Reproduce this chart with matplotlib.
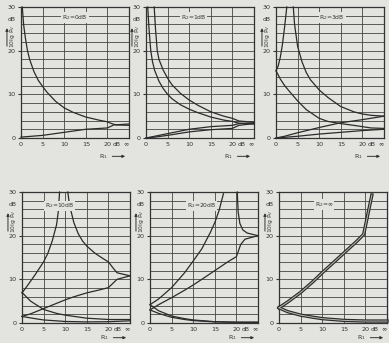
import matplotlib
matplotlib.use("Agg")
import matplotlib.pyplot as plt

# x values in dB, "inf" is drawn at the right edge of each panel (25 dB)
X_INF = 25

titles = ["R$_2$=0dB", "R$_2$=1dB", "R$_2$=3dB", "R$_2$=10dB", "R$_2$=20dB", "R$_2$=$\\infty$"]
x_ticks = [0, 5, 10, 15, 20]
x_tick_labels = ["0", "5", "10", "15", "20"]
y_ticks = [0, 10, 20, 30]

# R2 = 0 dB
p1_down_x = [0.3, 0.6, 1, 1.5, 2, 3, 4, 5, 6, 8, 10, 12, 15, 18, 20, 21, 22, X_INF]
p1_down_y = [30, 26, 23, 20, 18, 15.2, 13.2, 11.8, 10.5, 8.4, 6.9, 5.9, 4.8, 4.1, 3.7, 3.3, 3.0, 2.9]
p1_up_x = [0, 5, 10, 15, 20, 21.5, X_INF]
p1_up_y = [0.2, 0.6, 1.3, 2.0, 2.3, 3.0, 3.2]

# R2 = 1 dB
p2_a_x = [1.9, 2.2, 2.6, 3, 4, 5, 6, 8, 10, 12, 15, 18, 20, 21.5, X_INF]
p2_a_y = [30, 25, 20, 18, 15.5, 13.7, 12.2, 10.2, 8.7, 7.5, 6.0, 5.0, 4.5, 3.9, 3.6]
p2_b_x = [0.4, 0.7, 1.1, 1.5, 2, 3, 4, 5, 6, 8, 10, 12, 15, 18, 20, 21.5, X_INF]
p2_b_y = [30, 25, 20, 17.5, 15.5, 13, 11.3, 10, 9, 7.6, 6.6, 5.8, 4.8, 4.1, 3.8, 3.4, 3.2]
p2_c_x = [0, 2, 5, 10, 15, 20, 21.5, X_INF]
p2_c_y = [0, 0.4, 1.0, 2.0, 2.6, 2.9, 3.3, 3.5]
p2_d_x = [0, 2, 5, 10, 15, 20, 21.5, X_INF]
p2_d_y = [0, 0.2, 0.6, 1.4, 1.9, 2.2, 2.9, 3.3]

# R2 = 3 dB
p3_lu_x = [0, 0.5, 1, 1.5, 2, 2.5]
p3_lu_y = [15.4, 16.5, 18.5, 21.5, 25.5, 30]
p3_ld_x = [0, 1, 2, 3, 5, 7, 10, 12, 15, 18, 20, 22, X_INF]
p3_ld_y = [15.4, 13.5, 12, 10.8, 8.5, 6.5, 4.5, 3.8, 3.3, 2.9, 2.6, 2.3, 2.2]
p3_rd_x = [4, 4.3, 5, 6, 7, 8, 10, 12, 15, 18, 20, 22, X_INF]
p3_rd_y = [30, 26, 21, 17.5, 15, 13.3, 11, 9.3, 7.2, 6.0, 5.5, 5.2, 5.0]
p3_ua_x = [0, 2, 5, 10, 15, 20, X_INF]
p3_ua_y = [0, 0.4, 1.2, 2.4, 3.5, 4.2, 5.0]
p3_ub_x = [0, 5, 10, 15, 20, X_INF]
p3_ub_y = [0, 0.4, 0.9, 1.3, 1.7, 2.0]

# R2 = 10 dB
p4_ui_x = [0, 1, 2, 3, 4, 5, 6, 7, 8, 8.4, 8.7]
p4_ui_y = [6.9, 8.2, 9.6, 11, 12.5, 14, 16, 18.8, 22.5, 25.5, 30]
p4_di_x = [10.6, 11, 12, 13, 14, 15, 17, 19, 20, 21, 22, X_INF]
p4_di_y = [30, 27, 23, 20.5, 18.8, 17.6, 15.9, 14.6, 14.0, 12.7, 11.5, 10.8]
p4_d7_x = [0, 2, 5, 8, 10, 15, 20, X_INF]
p4_d7_y = [7, 5, 3.1, 2.2, 1.8, 1.1, 0.8, 0.8]
p4_u1_x = [0, 2, 5, 8, 10, 12, 15, 18, 20, 22, X_INF]
p4_u1_y = [1.5, 2.1, 3.3, 4.5, 5.3, 6.0, 6.9, 7.6, 8.1, 10, 10.8]
p4_d1_x = [0, 3, 5, 10, 15, 20, X_INF]
p4_d1_y = [1.5, 1.0, 0.7, 0.35, 0.25, 0.3, 0.5]

# R2 = 20 dB
p5_st_x = [0, 2, 5, 8, 10, 12, 14, 15, 16, 17]
p5_st_y = [4.2, 5.5, 8.1, 11.5, 14.2, 17, 20.8, 23, 25.8, 29.6]
p5_sl_x = [0, 2, 5, 8, 10, 12, 15, 18, 20, 21, 22, X_INF]
p5_sl_y = [3, 4.2, 5.8, 7.5, 8.7, 10, 12, 14, 15.2, 18, 19.2, 20]
p5_di_x = [20.2, 20.4, 20.8, 21.5, 22.5, X_INF]
p5_di_y = [30, 25.5, 22.8, 21.3, 20.6, 20]
p5_la_x = [0, 2, 5, 8, 10, 15, 20, X_INF]
p5_la_y = [4.2, 2.8, 1.6, 1.0, 0.7, 0.3, 0.2, 0.2]
p5_lb_x = [0, 2, 5, 8, 10, 15, 20, X_INF]
p5_lb_y = [3, 2.2, 1.3, 0.8, 0.55, 0.25, 0.15, 0.15]

# R2 = inf
p6_up_x = [0, 2, 5, 8, 10, 12, 15, 18, 19.6, 21.5]
p6_up_y = [3.5, 4.8, 7, 9.6, 11.5, 13.3, 16, 18.7, 20.3, 29.3]
p6_dn_x = [0, 2, 5, 8, 10, 15, 20, X_INF]
p6_dn_y = [3.5, 2.6, 1.8, 1.3, 1.0, 0.6, 0.45, 0.45]

panels = [
    [(p1_down_x, p1_down_y), (p1_up_x, p1_up_y)],
    [(p2_a_x, p2_a_y), (p2_b_x, p2_b_y), (p2_c_x, p2_c_y), (p2_d_x, p2_d_y)],
    [(p3_lu_x, p3_lu_y), (p3_ld_x, p3_ld_y), (p3_rd_x, p3_rd_y), (p3_ua_x, p3_ua_y), (p3_ub_x, p3_ub_y)],
    [(p4_ui_x, p4_ui_y), (p4_di_x, p4_di_y), (p4_d7_x, p4_d7_y), (p4_u1_x, p4_u1_y), (p4_d1_x, p4_d1_y)],
    [(p5_st_x, p5_st_y), (p5_sl_x, p5_sl_y), (p5_di_x, p5_di_y), (p5_la_x, p5_la_y), (p5_lb_x, p5_lb_y)],
    [],
]
double_lines = [(p6_up_x, p6_up_y), (p6_dn_x, p6_dn_y)]

title_pos = [(12.5, 27.6), (11, 27.6), (13, 27.6), (8.6, 26.8), (12, 26.8), (10.5, 27.2)]

bg = "#e3e3e0"
ink = "#2b2b2b"
W, H = 389, 343
fig = plt.figure(figsize=(W / 100, H / 100), dpi=100, facecolor=bg)

# pixel boxes: left, top(y=30), bottom(y=0)
boxes = [(21, 7, 138), (146, 7, 138), (276, 7, 138),
         (22, 192, 323), (150, 192, 323), (279, 192, 323)]
pw = 108

for i, (lx, ty, by) in enumerate(boxes):
    ax = fig.add_axes([lx / W, 1 - by / H, pw / W, (by - ty) / H])
    ax.set_facecolor(bg)
    ax.set_xlim(0, X_INF)
    ax.set_ylim(0, 30)
    for v in range(2, 30, 2):
        ax.axhline(v, color="#444444", lw=0.6, zorder=1)
    for v in [5, 10, 15, 20]:
        ax.axvline(v, color="#444444", lw=0.6, zorder=1)
    for s in ax.spines.values():
        s.set_color("#333333")
        s.set_linewidth(0.9)

    for xs, ys in panels[i]:
        ax.plot(xs, ys, color=ink, lw=0.9, zorder=3, clip_on=False)
    if i == 5:
        for xs, ys in double_lines:
            ax.plot(xs, ys, color=ink, lw=2.4, zorder=3, clip_on=False)
            ax.plot(xs, ys, color="#b8b8b4", lw=0.7, zorder=4, clip_on=False)

    ax.set_xticks(x_ticks)
    ax.set_xticklabels(x_tick_labels)
    ax.set_yticks(y_ticks)
    ax.tick_params(axis="x", length=0, pad=3, labelsize=4.6, colors="#333333")
    ax.tick_params(axis="y", length=2.5, width=0.8, pad=1.5, labelsize=4.6, colors="#333333")

    ax.text(22.2, -0.9, "dB", fontsize=4.3, color="#333333", ha="center", va="top")
    ax.text(24.3, -0.9, "$\\infty$", fontsize=4.6, color="#333333", ha="center", va="top")
    ax.text(title_pos[i][0], title_pos[i][1], titles[i], fontsize=4.3, color="#333333",
            ha="center", va="center", zorder=5,
            bbox=dict(boxstyle="square,pad=0.15", fc=bg, ec="none"))

    # y axis label
    ax.text(-0.085, 0.905, "dB", transform=ax.transAxes, fontsize=4.3,
            color="#333333", ha="center", va="center")
    ax.text(-0.075, 0.78, "10lg P$_V$", transform=ax.transAxes, fontsize=4.3,
            color="#333333", ha="center", va="center", rotation=90)
    ax.annotate("", xy=(-0.13, 0.86), xytext=(-0.13, 0.68), xycoords="axes fraction",
                arrowprops=dict(arrowstyle="-|>", color="#333333", lw=0.7,
                                mutation_scale=4))

    # x axis label
    ly = -0.14 if i < 3 else -0.112
    ax.text(0.76, ly, "R$_1$", transform=ax.transAxes, fontsize=4.6,
            color="#333333", ha="center", va="center")
    ax.annotate("", xy=(0.99, ly), xytext=(0.82, ly), xycoords="axes fraction",
                arrowprops=dict(arrowstyle="-|>", color="#333333", lw=0.7,
                                mutation_scale=4))

fig.savefig("out.png", dpi=100, facecolor=bg)
